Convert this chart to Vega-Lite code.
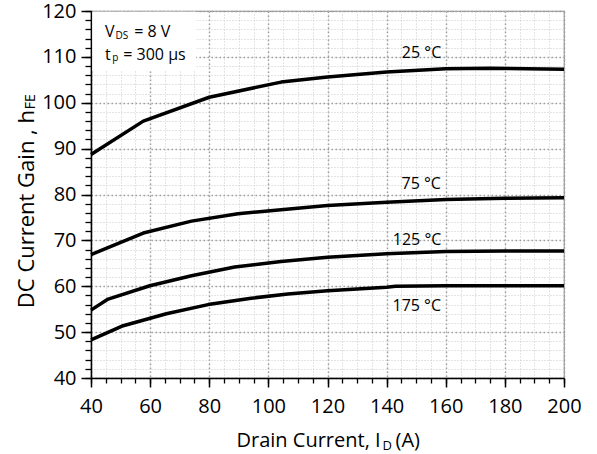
{
  "$schema": "https://vega.github.io/schema/vega-lite/v6.json",
  "width": 473,
  "height": 367,
  "autosize": {"type": "none"},
  "padding": {"left": 91, "top": 11, "right": 33, "bottom": 76},
  "background": "white",
  "config": {
    "view": {"stroke": "#8c8c8c", "strokeWidth": 1.2},
    "font": "Open Sans",
    "axis": {"labelFont": "Open Sans", "labelColor": "black", "tickColor": "black", "domainColor": "black", "labelFlush": false}
  },
  "datasets": {
    "curves": [
      {"temp": "25", "I": 40, "hFE": 88.7},
      {"temp": "25", "I": 57.7, "hFE": 96.0},
      {"temp": "25", "I": 80, "hFE": 101.2},
      {"temp": "25", "I": 104.3, "hFE": 104.5},
      {"temp": "25", "I": 120, "hFE": 105.6},
      {"temp": "25", "I": 140, "hFE": 106.7},
      {"temp": "25", "I": 160, "hFE": 107.4},
      {"temp": "25", "I": 175, "hFE": 107.5},
      {"temp": "25", "I": 200, "hFE": 107.3},
      {"temp": "75", "I": 40, "hFE": 66.9},
      {"temp": "75", "I": 57.7, "hFE": 71.6},
      {"temp": "75", "I": 74, "hFE": 74.2},
      {"temp": "75", "I": 89.7, "hFE": 75.8},
      {"temp": "75", "I": 104.3, "hFE": 76.7},
      {"temp": "75", "I": 120, "hFE": 77.6},
      {"temp": "75", "I": 140, "hFE": 78.3},
      {"temp": "75", "I": 160, "hFE": 78.9},
      {"temp": "75", "I": 180, "hFE": 79.2},
      {"temp": "75", "I": 200, "hFE": 79.3},
      {"temp": "125", "I": 40, "hFE": 54.8},
      {"temp": "125", "I": 45.8, "hFE": 57.2},
      {"temp": "125", "I": 59.9, "hFE": 60.1},
      {"temp": "125", "I": 74, "hFE": 62.3},
      {"temp": "125", "I": 88.6, "hFE": 64.2},
      {"temp": "125", "I": 104.3, "hFE": 65.4},
      {"temp": "125", "I": 120, "hFE": 66.3},
      {"temp": "125", "I": 140, "hFE": 67.1},
      {"temp": "125", "I": 160, "hFE": 67.6},
      {"temp": "125", "I": 180, "hFE": 67.7},
      {"temp": "125", "I": 200, "hFE": 67.7},
      {"temp": "175", "I": 40, "hFE": 48.3},
      {"temp": "175", "I": 50.9, "hFE": 51.4},
      {"temp": "175", "I": 65.5, "hFE": 54.0},
      {"temp": "175", "I": 79.6, "hFE": 56.0},
      {"temp": "175", "I": 94.2, "hFE": 57.4},
      {"temp": "175", "I": 106.6, "hFE": 58.3},
      {"temp": "175", "I": 120, "hFE": 59.0},
      {"temp": "175", "I": 140, "hFE": 59.8},
      {"temp": "175", "I": 143, "hFE": 60.0},
      {"temp": "175", "I": 160, "hFE": 60.1},
      {"temp": "175", "I": 200, "hFE": 60.1}
    ],
    "labels": [
      {"label": "25 °C", "I": 151.8, "hFE": 109.8},
      {"label": "75 °C", "I": 151.7, "hFE": 81.2},
      {"label": "125 °C", "I": 150.3, "hFE": 69.0},
      {"label": "175 °C", "I": 150.2, "hFE": 54.5}
    ]
  },
  "resolve": {"axis": {"x": "independent", "y": "independent"}},
  "layer": [
    {
      "data": {"name": "curves"},
      "mark": {"type": "point", "opacity": 0},
      "encoding": {
        "x": {"field": "I", "type": "quantitative", "scale": {"domain": [40, 200], "nice": false, "zero": false},
          "axis": {"orient": "bottom", "values": [40,45,50,55,60,65,70,75,80,85,90,95,100,105,110,115,120,125,130,135,140,145,150,155,160,165,170,175,180,185,190,195,200],
            "grid": true, "gridColor": "#c8c8c8", "gridDash": [1, 2], "gridWidth": 1,
            "ticks": true, "tickSize": 5, "tickWidth": 1.3, "labels": false, "domain": false, "title": null}},
        "y": {"field": "hFE", "type": "quantitative", "scale": {"domain": [40, 120], "nice": false, "zero": false},
          "axis": {"orient": "left", "values": [40,42,44,46,48,50,52,54,56,58,60,62,64,66,68,70,72,74,76,78,80,82,84,86,88,90,92,94,96,98,100,102,104,106,108,110,112,114,116,118,120],
            "grid": true, "gridColor": "#c8c8c8", "gridDash": [1, 2], "gridWidth": 1,
            "ticks": true, "tickSize": 6, "tickWidth": 1.3, "labels": false, "domain": false, "title": null}}
      }
    },
    {
      "data": {"name": "curves"},
      "mark": {"type": "line", "color": "black", "strokeWidth": 3.5, "strokeJoin": "round"},
      "encoding": {
        "x": {"field": "I", "type": "quantitative",
          "axis": {"orient": "bottom", "values": [40,60,80,100,120,140,160,180,200],
            "grid": true, "gridColor": "#a0a0a0", "gridDash": [1.5, 2.5], "gridWidth": 1.5,
            "ticks": true, "tickSize": 9, "tickWidth": 1.5, "labelFontSize": 20, "labelPadding": 9,
            "domain": true, "domainWidth": 1.5, "title": null}},
        "y": {"field": "hFE", "type": "quantitative",
          "axis": {"orient": "left", "values": [40,50,60,70,80,90,100,110,120],
            "grid": true, "gridColor": "#a0a0a0", "gridDash": [1.5, 2.5], "gridWidth": 1.5,
            "ticks": true, "tickSize": 10, "tickWidth": 1.5, "labelFontSize": 20, "labelPadding": 5,
            "domain": true, "domainWidth": 1.5, "title": null}},
        "detail": {"field": "temp", "type": "nominal"}
      }
    },
    {
      "data": {"values": [{}]},
      "mark": {"type": "rect", "color": "white"},
      "encoding": {
        "x": {"datum": 40.45, "type": "quantitative", "axis": null},
        "x2": {"datum": 75.6},
        "y": {"datum": 119.85, "type": "quantitative", "axis": null},
        "y2": {"datum": 107}
      }
    },
    {
      "data": {"name": "labels"},
      "mark": {"type": "text", "fontSize": 16, "font": "Open Sans", "color": "black", "align": "center", "baseline": "alphabetic"},
      "encoding": {
        "x": {"field": "I", "type": "quantitative", "axis": null},
        "y": {"field": "hFE", "type": "quantitative", "axis": null},
        "text": {"field": "label"}
      }
    },
    {
      "data": {"values": [{}]},
      "mark": {"type": "text", "fontSize": 16, "font": "Open Sans", "color": "black", "align": "left", "baseline": "alphabetic", "text": "V"},
      "encoding": {"x": {"datum": 44.73, "type": "quantitative", "axis": null}, "y": {"datum": 114.33, "type": "quantitative", "axis": null}}
    },
    {
      "data": {"values": [{}]},
      "mark": {"type": "text", "fontSize": 10, "font": "Open Sans", "color": "black", "align": "left", "baseline": "alphabetic", "text": "DS"},
      "encoding": {"x": {"datum": 48.3, "type": "quantitative", "axis": null}, "y": {"datum": 113.96, "type": "quantitative", "axis": null}}
    },
    {
      "data": {"values": [{}]},
      "mark": {"type": "text", "fontSize": 16, "font": "Open Sans", "color": "black", "align": "left", "baseline": "alphabetic", "text": "= 8 V"},
      "encoding": {"x": {"datum": 54.63, "type": "quantitative", "axis": null}, "y": {"datum": 114.33, "type": "quantitative", "axis": null}}
    },
    {
      "data": {"values": [{}]},
      "mark": {"type": "text", "fontSize": 16, "font": "Open Sans", "color": "black", "align": "left", "baseline": "alphabetic", "text": "t"},
      "encoding": {"x": {"datum": 44.73, "type": "quantitative", "axis": null}, "y": {"datum": 109.4, "type": "quantitative", "axis": null}}
    },
    {
      "data": {"values": [{}]},
      "mark": {"type": "text", "fontSize": 10, "font": "Open Sans", "color": "black", "align": "left", "baseline": "alphabetic", "text": "p"},
      "encoding": {"x": {"datum": 47.2, "type": "quantitative", "axis": null}, "y": {"datum": 109.1, "type": "quantitative", "axis": null}}
    },
    {
      "data": {"values": [{}]},
      "mark": {"type": "text", "fontSize": 16, "font": "Open Sans", "color": "black", "align": "left", "baseline": "alphabetic", "text": "= 300 µs"},
      "encoding": {"x": {"datum": 50.9, "type": "quantitative", "axis": null}, "y": {"datum": 109.4, "type": "quantitative", "axis": null}}
    },
    {
      "data": {"values": [{}]},
      "mark": {"type": "text", "fontSize": 20, "font": "Open Sans", "color": "black", "align": "right", "baseline": "alphabetic", "text": "Drain Current, I"},
      "encoding": {"x": {"datum": 137.97, "type": "quantitative", "axis": null}, "y": {"datum": 25.02, "type": "quantitative", "axis": null}}
    },
    {
      "data": {"values": [{}]},
      "mark": {"type": "text", "fontSize": 13, "font": "Open Sans", "color": "black", "align": "left", "baseline": "alphabetic", "text": "D"},
      "encoding": {"x": {"datum": 138.6, "type": "quantitative", "axis": null}, "y": {"datum": 24.3, "type": "quantitative", "axis": null}}
    },
    {
      "data": {"values": [{}]},
      "mark": {"type": "text", "fontSize": 20, "font": "Open Sans", "color": "black", "align": "left", "baseline": "alphabetic", "text": "(A)"},
      "encoding": {"x": {"datum": 143.0, "type": "quantitative", "axis": null}, "y": {"datum": 25.02, "type": "quantitative", "axis": null}}
    },
    {
      "data": {"values": [{}]},
      "mark": {"type": "text", "fontSize": 22, "font": "Open Sans", "color": "black", "align": "right", "baseline": "alphabetic", "angle": 270, "text": "DC Current Gain , h"},
      "encoding": {"x": {"datum": 20.62, "type": "quantitative", "axis": null}, "y": {"datum": 98.42, "type": "quantitative", "axis": null}}
    },
    {
      "data": {"values": [{}]},
      "mark": {"type": "text", "fontSize": 14, "font": "Open Sans", "color": "black", "align": "left", "baseline": "alphabetic", "angle": 270, "text": "FE"},
      "encoding": {"x": {"datum": 21.2, "type": "quantitative", "axis": null}, "y": {"datum": 98.6, "type": "quantitative", "axis": null}}
    }
  ]
}
